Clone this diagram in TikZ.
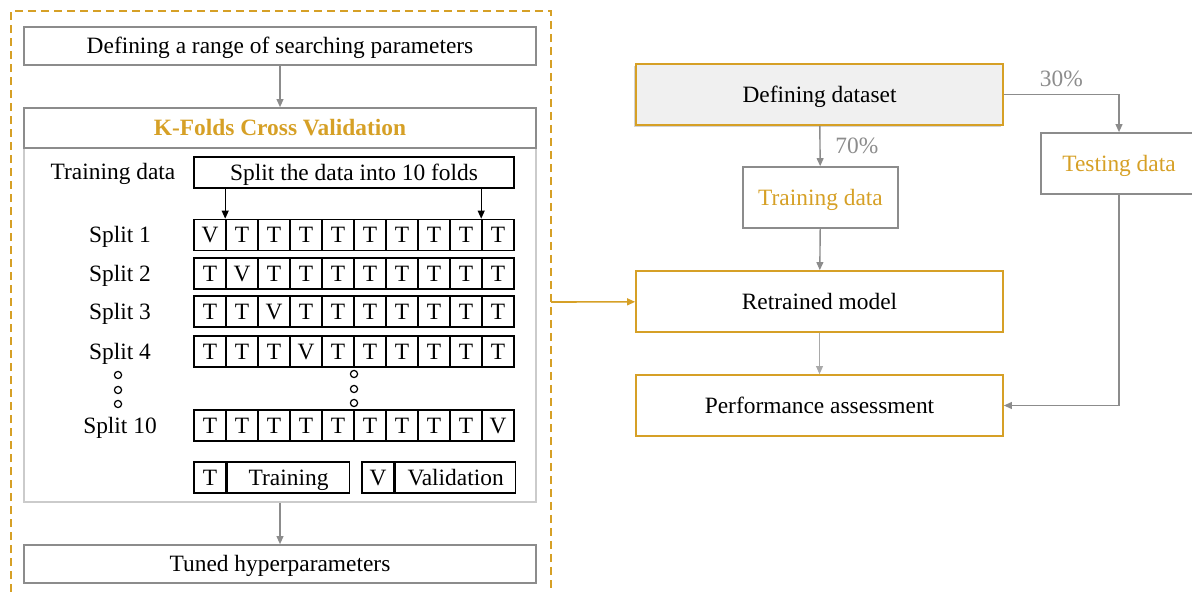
\documentclass[tikz,border=0pt]{standalone}
\usepackage{fontspec}
\setmainfont{Liberation Serif}
\usetikzlibrary{positioning,arrows.meta,shadows}
\definecolor{gold}{RGB}{214,160,38}
\definecolor{lgray}{RGB}{140,140,140}
\tikzset{
  flow/.style={x=0.5pt,y=-0.5pt,font=\fontsize{11.7}{14}\selectfont,
    >={Triangle[length=4pt,width=3.4pt]}},
  even/.style={text height=10.2pt,text depth=2.4pt},
  wide/.style={even,draw=lgray,line width=0.8pt,minimum width=256pt,minimum height=19pt,inner sep=0pt},
  stage/.style={even,draw=gold,line width=0.8pt,minimum width=183.5pt,minimum height=30.5pt,inner sep=0pt},
  part/.style={even,draw=lgray,line width=0.8pt,minimum width=77.5pt,minimum height=30.5pt,inner sep=0pt,text=gold},
  cell/.style={even,draw,line width=0.8pt,minimum width=16pt,minimum height=15.5pt,inner sep=0pt},
  link/.style={->,draw=lgray,line width=0.7pt},
  dot/.style={circle,draw,line width=0.6pt,minimum size=3.6pt,inner sep=0pt},
}
\begin{document}
\begin{tikzpicture}[flow]
  \useasboundingbox (0,0) rectangle (1192,592);
  \draw[gold,line width=0.8pt,dash pattern=on 4pt off 2.5pt] (11,592) -- (11,11) -- (551,11) -- (551,592);
  \coordinate (frame) at (551,302);
  \node[wide] (range) at (280,46) {Defining a range of searching parameters};
  \node[draw=lgray!45,line width=0.8pt,minimum width=256pt,minimum height=177pt,inner sep=0pt] (kbody) at (280,325) {};
  \node[wide,minimum height=20pt,text=gold,font=\fontsize{11.7}{14}\selectfont\bfseries] (kfold) at (280,128) {K-Folds Cross Validation};
  \node[even] (tdata) at (113,172) {Training data};
  \node[cell,minimum width=160pt] (folds) at (354,172.5) {Split the data into 10 folds};
  \foreach \r/\y in {1/235,2/273.5,3/311.5,4/351.5,10/425.5}{
    \node[even] (s\r) at (120,\y) {Split \r};
    \foreach \c in {1,...,10}
      \node[cell] (r\r c\c) at ({178+32*\c},\y) {\ifnum\c=\r V\else T\fi};
  }
  \draw[->,line width=0.7pt] (folds.south -| r1c2.west) -- (r1c2.north west);
  \draw[->,line width=0.7pt] (folds.south -| r1c10.west) -- (r1c10.north west);
  \foreach \i/\y in {1/375,2/390,3/404}{
    \node[dot] (la\i) at (118,\y) {};
    \node[dot] (mi\i) at (354,\y-1) {};
  }
  \node[cell] (keyT) at (210,477.5) {T};
  \node[cell,minimum width=61pt,right=0pt of keyT] (keyTl) {Training};
  \node[cell] (keyV) at (378,477.5) {V};
  \node[cell,minimum width=60pt,right=0pt of keyV] (keyVl) {Validation};
  \node[wide] (tuned) at (280,564) {Tuned hyperparameters};
  \draw[link] (range) -- (kfold);
  \draw[link] (kbody) -- (tuned);

  \node[stage,fill=gray!12,drop shadow={shadow xshift=-1.2pt,shadow yshift=-1.2pt,opacity=0.35}] (dataset) at (819.5,94.5) {Defining dataset};
  \node[part] (train) at (820.5,197.5) {Training data};
  \node[part,minimum width=78pt] (test) at (1119,163.5) {Testing data};
  \node[stage] (retrain) at (819.5,301.5) {Retrained model};
  \node[stage] (perf) at (819.5,405.5) {Performance assessment};
  \draw[link] (dataset) -- node[right=4pt,text=lgray] {70\%} (train);
  \draw[link] (dataset.east) -| node[pos=0.25,above,text=lgray] {30\%} (test);
  \draw[link] (train) -- (retrain);
  \draw[link,draw=lgray!75,line width=0.5pt] (retrain) -- (perf);
  \draw[link] (test) |- (perf);
  \draw[->,gold,line width=0.8pt] (frame) -- (retrain);
\end{tikzpicture}
\end{document}
